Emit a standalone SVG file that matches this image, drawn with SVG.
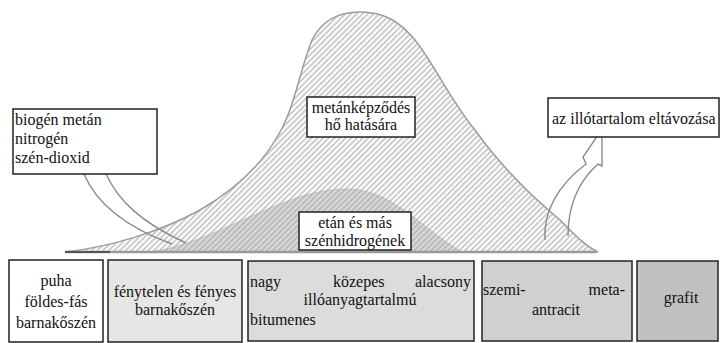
<svg xmlns="http://www.w3.org/2000/svg" width="720" height="343" viewBox="0 0 720 343" font-family="'Liberation Serif', 'DejaVu Serif', serif">
  <style>
    text { font-family: 'Liberation Serif', 'DejaVu Serif', serif; font-size: 16px; fill: #111; }
    .mid { text-anchor: middle; }
    .box { stroke: #222; stroke-width: 1.5; }
    .note { fill: #fff; stroke: #222; stroke-width: 1.5; }
    .flow { fill: none; stroke: #8a8a8a; stroke-width: 1.4; }
  </style>
  <defs>
    <pattern id="hatch" patternUnits="userSpaceOnUse" width="4" height="4" patternTransform="rotate(45)">
      <line x1="2" y1="0" x2="2" y2="4" stroke="#a3a3a3" stroke-width="1.1"/>
    </pattern>
  </defs>

  <rect width="720" height="343" fill="#fff"/>

  <!-- generation curves -->
  <g id="curves">
    <!-- ethane and higher hydrocarbons hump -->
    <path d="M150 252 C215 244 280 190 345 189 C392 188 420 228 462 252 Z" fill="#d9d9d9" stroke="#c4c4c4" stroke-width="1"/>
    <!-- methane bell -->
    <path id="bell" d="M65 252 C110 247 160 232 200 210 C240 187 265 160 280 132 C295 105 300 70 312 40 C322 20 338 12 360 12 C385 12 400 22 415 40 C435 65 450 100 475 130 C500 165 530 195 560 220 C575 235 585 246 598 252 Z" fill="url(#hatch)" stroke="#9c9c9c" stroke-width="1.5"/>
    <!-- base line -->
    <line x1="65" y1="252" x2="596" y2="252" stroke="#9a9a9a" stroke-width="2.5"/>
    <line x1="65" y1="252" x2="110" y2="252" stroke="#555" stroke-width="2"/>
  </g>

  <!-- connectors -->
  <g id="connectors">
    <path class="flow" d="M84 174 C95 200 120 225 172 244"/>
    <path class="flow" d="M106 174 C118 200 140 222 186 243"/>
    <path class="flow" d="M545 240 C543 212 558 185 586 164 L583 157 L602 129 L602 166 L598 164 C580 180 568 202 568 236"/>
  </g>

  <!-- labels on the curves -->
  <g id="biogen">
    <rect class="note" x="13" y="109" width="144" height="65"/>
    <text x="15" y="125">biogén metán</text>
    <text x="15" y="144">nitrogén</text>
    <text x="15" y="163">szén-dioxid</text>
  </g>
  <g id="metan">
    <rect class="note" x="307" y="97" width="108" height="40"/>
    <text class="mid" x="361" y="113">metánképződés</text>
    <text class="mid" x="361" y="130">hő hatására</text>
  </g>
  <g id="etan">
    <rect class="note" x="299" y="212" width="112" height="38"/>
    <text class="mid" x="355" y="228">etán és más</text>
    <text class="mid" x="355" y="246">szénhidrogének</text>
  </g>
  <g id="illo">
    <rect class="note" x="548" y="98" width="171" height="39"/>
    <text x="552" y="124">az illótartalom eltávozása</text>
  </g>

  <!-- coal rank boxes -->
  <g id="rank1">
    <rect class="box" x="9" y="260" width="94" height="82" fill="#fff"/>
    <text class="mid" x="56" y="286">puha</text>
    <text class="mid" x="56" y="307">földes-fás</text>
    <text class="mid" x="56" y="328">barnakőszén</text>
  </g>
  <g id="rank2">
    <rect class="box" x="108" y="260" width="134" height="82" fill="#e6e6e6"/>
    <text class="mid" x="175" y="297">fénytelen és fényes</text>
    <text class="mid" x="175" y="315">barnakőszén</text>
  </g>
  <g id="rank3">
    <rect class="box" x="248" y="261" width="226" height="80" fill="#dcdcdc"/>
    <text x="250" y="287">nagy</text>
    <text x="333" y="287">közepes</text>
    <text x="471" y="287" text-anchor="end">alacsony</text>
    <text class="mid" x="360" y="305">illóanyagtartalmú</text>
    <text x="250" y="325">bitumenes</text>
  </g>
  <g id="rank4">
    <rect class="box" x="482" y="261" width="150" height="80" fill="#d0d0d0"/>
    <text x="483" y="295">szemi-</text>
    <text x="625" y="295" text-anchor="end">meta-</text>
    <text class="mid" x="556" y="315">antracit</text>
  </g>
  <g id="rank5">
    <rect class="box" x="637" y="261" width="81" height="80" fill="#c1c1c1"/>
    <text class="mid" x="681" y="303">grafit</text>
  </g>
</svg>
